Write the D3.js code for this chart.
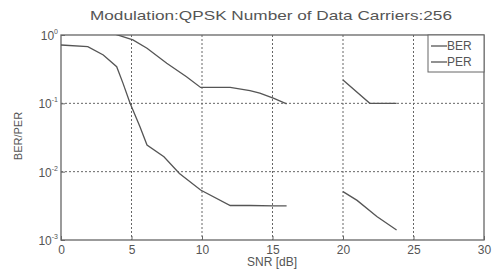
<!DOCTYPE html>
<html>
<head>
<meta charset="utf-8">
<script src="https://cdn.jsdelivr.net/npm/d3@7"></script>
<style>
  body { margin: 0; background: #fff; }
  svg text { font-family: "Liberation Sans", Arial, sans-serif; fill: #555; }
</style>
</head>
<body>
<svg id="chart" width="492" height="270"></svg>
<script>
// SNR (dB) and error rates
const berSnr1 = [0, 1.9, 3.0, 3.95, 4.4, 4.9, 5.6, 6.1, 7.3, 8.4, 9.9, 12.0, 13.4, 15.1, 16.0];
const berVal1 = [0.714, 0.674, 0.51, 0.343, 0.196, 0.1, 0.0454, 0.0245, 0.0165, 0.0094, 0.0054, 0.0032, 0.0032, 0.00316, 0.00316];
const berSnr2 = [20.0, 21.0, 22.4, 23.8];
const berVal2 = [0.0051, 0.0038, 0.0022, 0.0014];

const perSnr1 = [3.7, 5.1, 6.1, 7.5, 8.9, 9.9, 12.0, 13.4, 14.1, 15.1, 16.0];
const perVal1 = [1.05, 0.85, 0.64, 0.385, 0.245, 0.171, 0.171, 0.153, 0.141, 0.118, 0.098];
const perSnr2 = [20.0, 21.9, 23.8];
const perVal2 = [0.219, 0.1, 0.1];

const xTicks = [0, 5, 10, 15, 20, 25, 30];
const yTicks = [1, 0.1, 0.01, 0.001];
const yExps = ["0", "-1", "-2", "-3"];
const legendNames = ["BER", "PER"];

const svg = d3.select("#chart");
const mLeft = 61, mRight = 484, mTop = 35, mBottom = 240;
const x = d3.scaleLinear().domain([0, 30]).range([mLeft, mRight]);
const y = d3.scaleLog().domain([0.001, 1]).range([mBottom, mTop]);
const ink = "#555";

// dotted grid
svg.append("g").selectAll("line")
  .data(xTicks.slice(1, -1))
  .join("line")
  .attr("x1", d => x(d)).attr("x2", d => x(d))
  .attr("y1", mTop).attr("y2", mBottom)
  .attr("stroke", "#666").attr("stroke-width", 1).attr("stroke-dasharray", "2,2");
svg.append("g").selectAll("line")
  .data(yTicks.slice(1, -1))
  .join("line")
  .attr("x1", mLeft).attr("x2", mRight)
  .attr("y1", d => y(d)).attr("y2", d => y(d))
  .attr("stroke", "#666").attr("stroke-width", 1).attr("stroke-dasharray", "2,2");

// axes box
svg.append("rect")
  .attr("x", mLeft).attr("y", mTop)
  .attr("width", mRight - mLeft).attr("height", mBottom - mTop)
  .attr("fill", "none").attr("stroke", "#666").attr("stroke-width", 1.3);

// ticks via d3 axes
const xAxis = svg.append("g").attr("transform", `translate(0,${mBottom})`)
  .call(d3.axisBottom(x).tickValues(xTicks).tickSize(-4).tickPadding(5));
xAxis.select(".domain").remove();
xAxis.selectAll("line").attr("stroke", "#666");
xAxis.selectAll("text").attr("font-size", 12).attr("fill", ink).style("font-family", "Liberation Sans, sans-serif");

const yAxis = svg.append("g").attr("transform", `translate(${mLeft},0)`)
  .call(d3.axisLeft(y).tickValues(yTicks).tickSize(-4).tickFormat(""));
yAxis.select(".domain").remove();
yAxis.selectAll("line").attr("stroke", "#666");

const yl = svg.append("g").selectAll("text")
  .data(yTicks)
  .join("text")
  .attr("x", mLeft - 3).attr("y", d => y(d) + 5)
  .attr("text-anchor", "end").attr("font-size", 12);
yl.append("tspan").text("10");
yl.append("tspan").attr("dy", -6).attr("font-size", 7).text((d, i) => yExps[i]);

// clip
svg.append("clipPath").attr("id", "clip")
  .append("rect").attr("x", mLeft).attr("y", mTop).attr("width", mRight - mLeft).attr("height", mBottom - mTop);

const line = d3.line().x(d => x(d[0])).y(d => y(d[1]));
const series = [
  d3.zip(berSnr1, berVal1), d3.zip(berSnr2, berVal2),
  d3.zip(perSnr1, perVal1), d3.zip(perSnr2, perVal2)
];
svg.append("g").attr("clip-path", "url(#clip)")
  .selectAll("path")
  .data(series)
  .join("path")
  .attr("d", line)
  .attr("fill", "none").attr("stroke", ink).attr("stroke-width", 1.3);

// legend
const lg = svg.append("g");
lg.append("rect").attr("x", 428).attr("y", mTop).attr("width", 56).attr("height", 37)
  .attr("fill", "#fff").attr("stroke", "#666").attr("stroke-width", 1);
lg.selectAll("line").data(legendNames).join("line")
  .attr("x1", 431).attr("x2", 447)
  .attr("y1", (d, i) => 46 + i * 16).attr("y2", (d, i) => 46 + i * 16)
  .attr("stroke", ink).attr("stroke-width", 1.3);
lg.selectAll("text").data(legendNames).join("text")
  .attr("x", 447).attr("y", (d, i) => 50 + i * 16)
  .attr("font-size", 12).text(d => d);

// title and labels
svg.append("text").attr("x", 271).attr("y", 20).attr("text-anchor", "middle")
  .attr("font-size", 13).attr("textLength", 362).attr("lengthAdjust", "spacingAndGlyphs")
  .text("Modulation:QPSK Number of Data Carriers:256");
svg.append("text").attr("x", 272).attr("y", 266).attr("text-anchor", "middle")
  .attr("font-size", 12).text("SNR [dB]");
svg.append("text").attr("transform", "translate(22,136) rotate(-90)").attr("text-anchor", "middle")
  .attr("font-size", 11).text("BER/PER");
</script>
</body>
</html>
